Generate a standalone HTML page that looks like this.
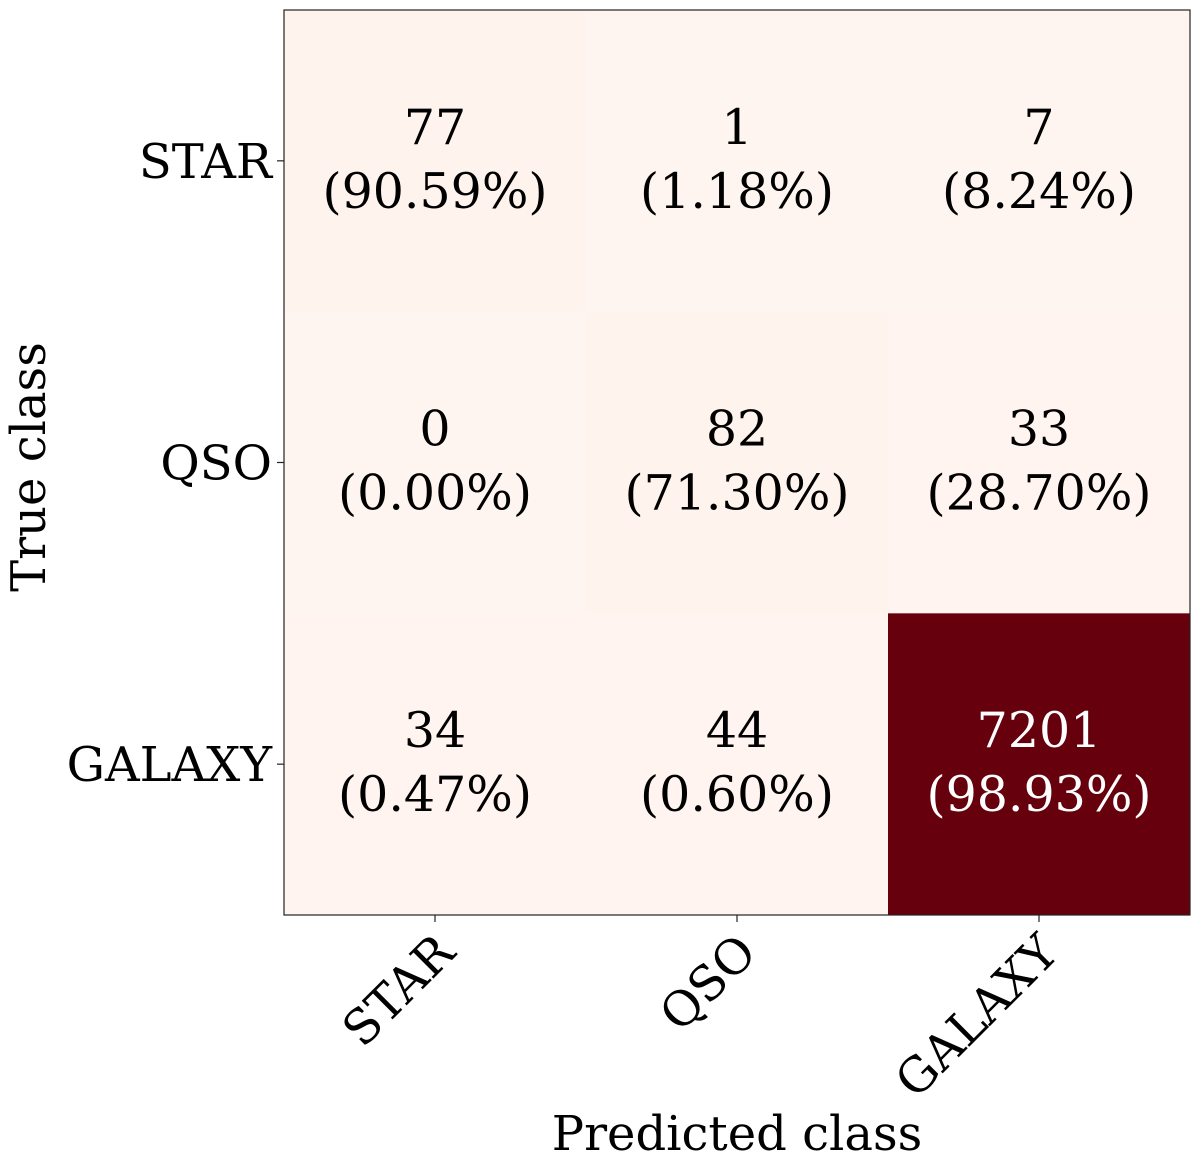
<!DOCTYPE html>
<html><head><meta charset="utf-8"><style>
body{margin:0;background:#fff;}
svg{display:block;font-family:"DejaVu Serif","Liberation Serif",serif;}
</style></head><body>
<svg id="chart" width="1200" height="1159" viewBox="0 0 1200 1159"></svg>
<script>
const classes = ["STAR","QSO","GALAXY"];
const counts = [[77,1,7],[0,82,33],[34,44,7201]];
const percents = ["90.59","1.18","8.24","0.00","71.30","28.70","0.47","0.60","98.93"];
const NS="http://www.w3.org/2000/svg";
const svg=document.getElementById('chart');
const X0=284,X1=1190,Y0=10,Y1=915;
const cw=(X1-X0)/3, ch=(Y1-Y0)/3;
const xPos=i=>X0+cw*i, yPos=i=>Y0+ch*i;
const stops=[[255,245,240],[254,224,210],[252,187,161],[252,146,114],[251,106,74],[239,59,44],[203,24,29],[165,15,21],[103,0,13]];
function reds(t){t=Math.max(0,Math.min(1,t));const s=t*(stops.length-1);const i=Math.min(Math.floor(s),stops.length-2);const f=s-i;const a=stops[i],b=stops[i+1];return `rgb(${a.map((v,k)=>Math.round(v+(b[k]-v)*f)).join(',')})`;}
let max=0;counts.forEach(r=>r.forEach(v=>{if(v>max)max=v;}));
function el(tag,attrs,parent){const e=document.createElementNS(NS,tag);for(const k in attrs)e.setAttribute(k,attrs[k]);(parent||svg).appendChild(e);return e;}
counts.forEach((row,r)=>row.forEach((v,c)=>{
  const t=v/max;
  const rect=el('rect',{x:xPos(c),y:yPos(r),width:cw+0.5,height:ch+0.5,fill:reds(t)});
  
  
  const col=t>0.5?'#fff':'#000';
  const cx=xPos(c)+cw/2, cy=yPos(r)+ch/2;
  const t1=el('text',{x:cx,y:cy-17,'text-anchor':'middle','font-size':49,fill:col});
  t1.textContent=String(v);
  
  
  const t2=el('text',{x:cx,y:cy+47,'text-anchor':'middle','font-size':49,fill:col});
  t2.textContent='('+percents[r*3+c]+'%)';
  
  
}));
const frame=el('rect',{x:X0,y:Y0,width:X1-X0,height:Y1-Y0,fill:'none',stroke:'#222','stroke-width':1.2});


classes.forEach((name,i)=>{
  const cy=yPos(i)+ch/2;
  el('line',{x1:X0-7,x2:X0,y1:cy,y2:cy,stroke:'#222','stroke-width':1.2});
  const yl=el('text',{x:X0-12,y:cy+17,'text-anchor':'end','font-size':48});
  yl.textContent=name;
  
  
  const cx=xPos(i)+cw/2;
  el('line',{x1:cx,x2:cx,y1:Y1,y2:Y1+7,stroke:'#222','stroke-width':1.2});
  const xl=el('text',{x:cx+22,y:Y1+40,'text-anchor':'end','font-size':48,transform:`rotate(-45 ${cx+22} ${Y1+40})`});
  xl.textContent=name;
  
  
});
const xt=el('text',{x:737,y:1150,'text-anchor':'middle','font-size':48});
xt.textContent='Predicted class';


const yt=el('text',{x:45,y:467,'text-anchor':'middle','font-size':48,transform:'rotate(-90 45 467)'});
yt.textContent='True class';


</script>
</body></html>
